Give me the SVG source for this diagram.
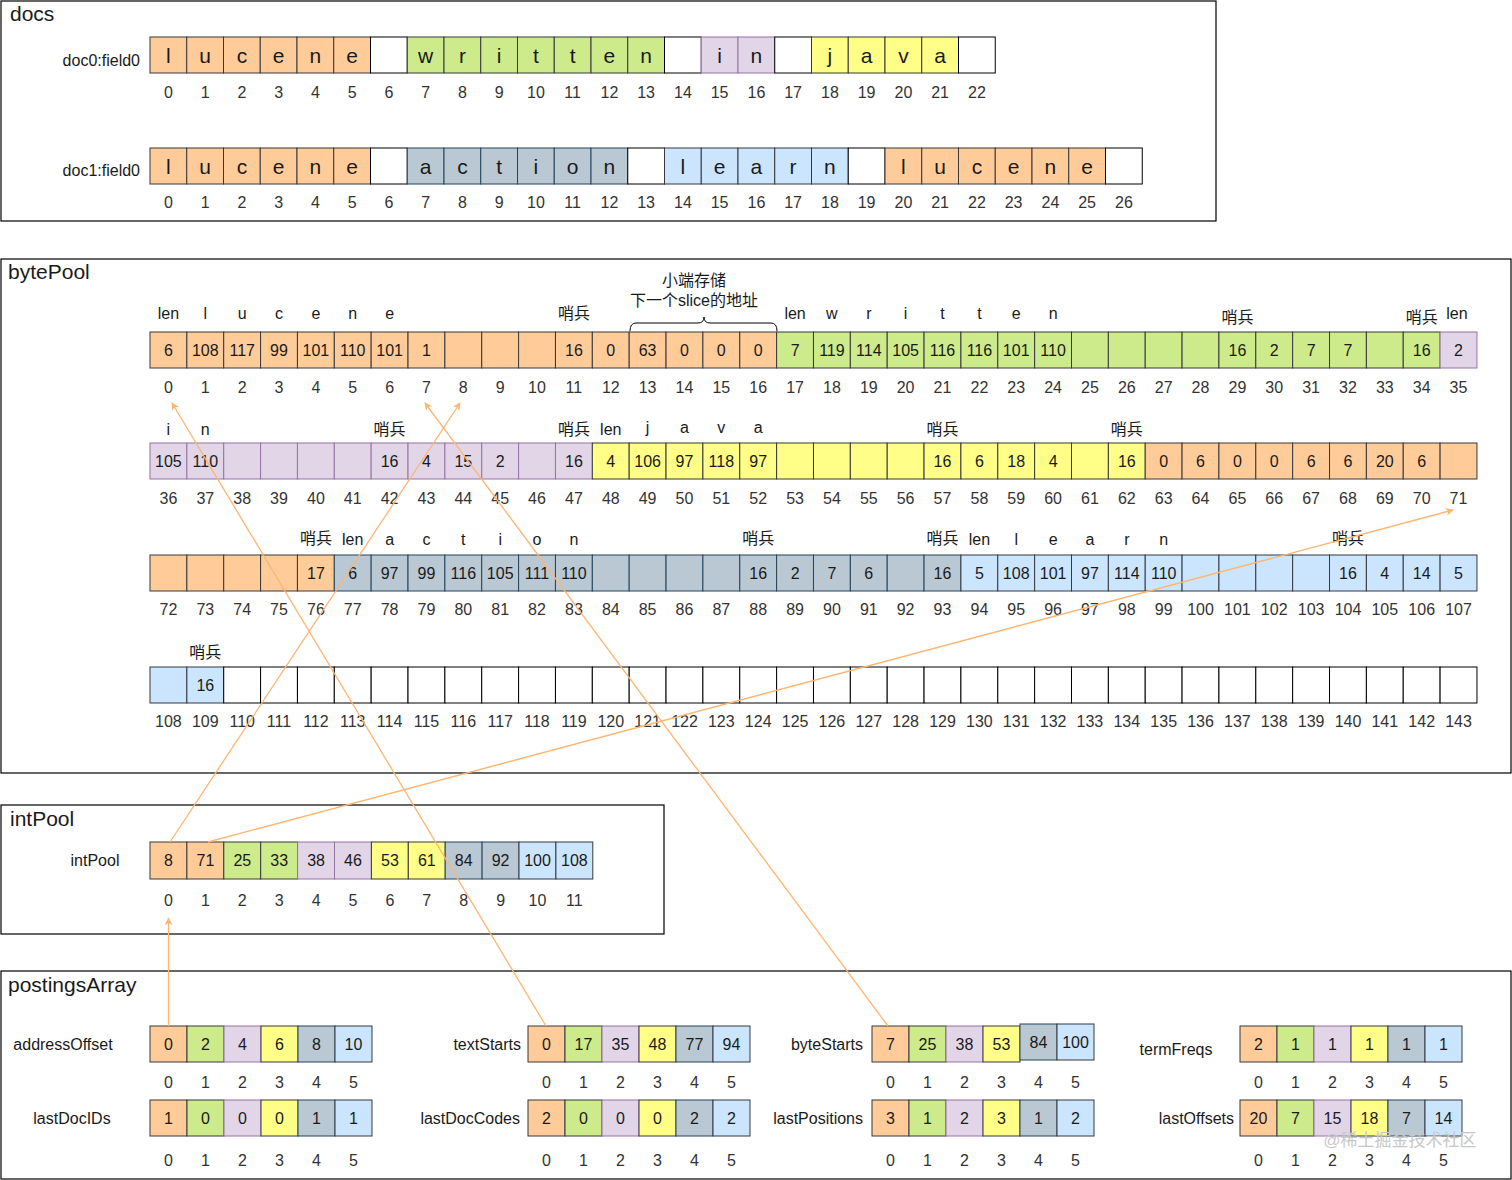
<svg xmlns="http://www.w3.org/2000/svg" width="1512" height="1180" viewBox="0 0 1512 1180">
<defs>
<style>
text{font-family:"Liberation Sans","Noto Sans CJK SC",sans-serif;fill:#1a1a1a}
.o{fill:#ffcc99;stroke:#36393d}
.g{fill:#cdeb8b;stroke:#36393d}
.p{fill:#e1d5e7;stroke:#9673a6}
.y{fill:#ffff88;stroke:#36393d}
.s{fill:#bac8d3;stroke:#23445d}
.b{fill:#cce5ff;stroke:#36393d}
.w{fill:#ffffff;stroke:#000}
.frame{fill:none;stroke:#000;stroke-width:1.2}
.title{font-size:21px}
.lab{font-size:16px;dominant-baseline:central}
.end{text-anchor:end}
.mid{text-anchor:middle}
.v{font-size:16px;text-anchor:middle;dominant-baseline:central}
.L{font-size:21px;text-anchor:middle;dominant-baseline:central}
.i{font-size:16px;text-anchor:middle;dominant-baseline:central;fill:#333}
.a{font-size:16px;text-anchor:middle;dominant-baseline:central}
.con{fill:none;stroke:#ffb570;stroke-width:1.3}
.wm{font-size:17px;fill:#c8c8c8;text-anchor:middle;dominant-baseline:central}
</style>
<marker id="arr" viewBox="0 0 10 10" refX="9" refY="5" markerWidth="8" markerHeight="8" orient="auto" markerUnits="userSpaceOnUse">
<path d="M0,0 L10,5 L0,10 L3,5 z" fill="#ffb570"/>
</marker>
</defs>
<rect x="0" y="0" width="1512" height="1180" fill="#fff"/>

<g id="docs">
<rect class="frame" x="1" y="1" width="1215" height="220"/>
<text class="title" x="10" y="21">docs</text>
<text class="lab end" x="140" y="60">doc0:field0</text>
<text class="lab end" x="140" y="170">doc1:field0</text>
<g id="doc0">
<rect class="o" x="150" y="37" width="36.75" height="36"/><rect class="o" x="186.75" y="37" width="36.75" height="36"/><rect class="o" x="223.5" y="37" width="36.75" height="36"/><rect class="o" x="260.25" y="37" width="36.75" height="36"/><rect class="o" x="297" y="37" width="36.75" height="36"/><rect class="o" x="333.75" y="37" width="36.75" height="36"/>
<rect class="w" x="370.5" y="37" width="36.75" height="36"/>
<rect class="g" x="407.25" y="37" width="36.75" height="36"/><rect class="g" x="444" y="37" width="36.75" height="36"/><rect class="g" x="480.75" y="37" width="36.75" height="36"/><rect class="g" x="517.5" y="37" width="36.75" height="36"/><rect class="g" x="554.25" y="37" width="36.75" height="36"/><rect class="g" x="591" y="37" width="36.75" height="36"/><rect class="g" x="627.75" y="37" width="36.75" height="36"/>
<rect class="w" x="664.5" y="37" width="36.75" height="36"/>
<rect class="p" x="701.25" y="37" width="36.75" height="36"/><rect class="p" x="738" y="37" width="36.75" height="36"/>
<rect class="w" x="774.75" y="37" width="36.75" height="36"/>
<rect class="y" x="811.5" y="37" width="36.75" height="36"/><rect class="y" x="848.25" y="37" width="36.75" height="36"/><rect class="y" x="885" y="37" width="36.75" height="36"/><rect class="y" x="921.75" y="37" width="36.75" height="36"/>
<rect class="w" x="958.5" y="37" width="36.75" height="36"/>
<text class="L" x="168.4" y="55">l</text><text class="L" x="205.1" y="55">u</text><text class="L" x="241.9" y="55">c</text><text class="L" x="278.6" y="55">e</text><text class="L" x="315.4" y="55">n</text><text class="L" x="352.1" y="55">e</text>
<text class="L" x="425.6" y="55">w</text><text class="L" x="462.4" y="55">r</text><text class="L" x="499.1" y="55">i</text><text class="L" x="535.9" y="55">t</text><text class="L" x="572.6" y="55">t</text><text class="L" x="609.4" y="55">e</text><text class="L" x="646.1" y="55">n</text>
<text class="L" x="719.6" y="55">i</text><text class="L" x="756.4" y="55">n</text>
<text class="L" x="829.9" y="55">j</text><text class="L" x="866.6" y="55">a</text><text class="L" x="903.4" y="55">v</text><text class="L" x="940.1" y="55">a</text>
<text class="i" x="168.4" y="92">0</text><text class="i" x="205.1" y="92">1</text><text class="i" x="241.9" y="92">2</text><text class="i" x="278.6" y="92">3</text><text class="i" x="315.4" y="92">4</text><text class="i" x="352.1" y="92">5</text><text class="i" x="388.9" y="92">6</text><text class="i" x="425.6" y="92">7</text><text class="i" x="462.4" y="92">8</text><text class="i" x="499.1" y="92">9</text><text class="i" x="535.9" y="92">10</text><text class="i" x="572.6" y="92">11</text><text class="i" x="609.4" y="92">12</text><text class="i" x="646.1" y="92">13</text><text class="i" x="682.9" y="92">14</text><text class="i" x="719.6" y="92">15</text><text class="i" x="756.4" y="92">16</text><text class="i" x="793.1" y="92">17</text><text class="i" x="829.9" y="92">18</text><text class="i" x="866.6" y="92">19</text><text class="i" x="903.4" y="92">20</text><text class="i" x="940.1" y="92">21</text><text class="i" x="976.9" y="92">22</text>
</g>
<g id="doc1">
<rect class="o" x="150" y="148" width="36.75" height="36"/><rect class="o" x="186.75" y="148" width="36.75" height="36"/><rect class="o" x="223.5" y="148" width="36.75" height="36"/><rect class="o" x="260.25" y="148" width="36.75" height="36"/><rect class="o" x="297" y="148" width="36.75" height="36"/><rect class="o" x="333.75" y="148" width="36.75" height="36"/>
<rect class="w" x="370.5" y="148" width="36.75" height="36"/>
<rect class="s" x="407.25" y="148" width="36.75" height="36"/><rect class="s" x="444" y="148" width="36.75" height="36"/><rect class="s" x="480.75" y="148" width="36.75" height="36"/><rect class="s" x="517.5" y="148" width="36.75" height="36"/><rect class="s" x="554.25" y="148" width="36.75" height="36"/><rect class="s" x="591" y="148" width="36.75" height="36"/>
<rect class="w" x="627.75" y="148" width="36.75" height="36"/>
<rect class="b" x="664.5" y="148" width="36.75" height="36"/><rect class="b" x="701.25" y="148" width="36.75" height="36"/><rect class="b" x="738" y="148" width="36.75" height="36"/><rect class="b" x="774.75" y="148" width="36.75" height="36"/><rect class="b" x="811.5" y="148" width="36.75" height="36"/>
<rect class="w" x="848.25" y="148" width="36.75" height="36"/>
<rect class="o" x="885" y="148" width="36.75" height="36"/><rect class="o" x="921.75" y="148" width="36.75" height="36"/><rect class="o" x="958.5" y="148" width="36.75" height="36"/><rect class="o" x="995.25" y="148" width="36.75" height="36"/><rect class="o" x="1032" y="148" width="36.75" height="36"/><rect class="o" x="1068.75" y="148" width="36.75" height="36"/>
<rect class="w" x="1105.5" y="148" width="36.75" height="36"/>
<text class="L" x="168.4" y="166">l</text><text class="L" x="205.1" y="166">u</text><text class="L" x="241.9" y="166">c</text><text class="L" x="278.6" y="166">e</text><text class="L" x="315.4" y="166">n</text><text class="L" x="352.1" y="166">e</text>
<text class="L" x="425.6" y="166">a</text><text class="L" x="462.4" y="166">c</text><text class="L" x="499.1" y="166">t</text><text class="L" x="535.9" y="166">i</text><text class="L" x="572.6" y="166">o</text><text class="L" x="609.4" y="166">n</text>
<text class="L" x="682.9" y="166">l</text><text class="L" x="719.6" y="166">e</text><text class="L" x="756.4" y="166">a</text><text class="L" x="793.1" y="166">r</text><text class="L" x="829.9" y="166">n</text>
<text class="L" x="903.4" y="166">l</text><text class="L" x="940.1" y="166">u</text><text class="L" x="976.9" y="166">c</text><text class="L" x="1013.6" y="166">e</text><text class="L" x="1050.4" y="166">n</text><text class="L" x="1087.1" y="166">e</text>
<text class="i" x="168.4" y="202">0</text><text class="i" x="205.1" y="202">1</text><text class="i" x="241.9" y="202">2</text><text class="i" x="278.6" y="202">3</text><text class="i" x="315.4" y="202">4</text><text class="i" x="352.1" y="202">5</text><text class="i" x="388.9" y="202">6</text><text class="i" x="425.6" y="202">7</text><text class="i" x="462.4" y="202">8</text><text class="i" x="499.1" y="202">9</text><text class="i" x="535.9" y="202">10</text><text class="i" x="572.6" y="202">11</text><text class="i" x="609.4" y="202">12</text><text class="i" x="646.1" y="202">13</text><text class="i" x="682.9" y="202">14</text><text class="i" x="719.6" y="202">15</text><text class="i" x="756.4" y="202">16</text><text class="i" x="793.1" y="202">17</text><text class="i" x="829.9" y="202">18</text><text class="i" x="866.6" y="202">19</text><text class="i" x="903.4" y="202">20</text><text class="i" x="940.1" y="202">21</text><text class="i" x="976.9" y="202">22</text><text class="i" x="1013.6" y="202">23</text><text class="i" x="1050.4" y="202">24</text><text class="i" x="1087.1" y="202">25</text><text class="i" x="1123.9" y="202">26</text>
</g>
</g>

<g id="bytePool">
<rect class="frame" x="1" y="259" width="1510" height="514"/>
<text class="title" x="8" y="279">bytePool</text>
<g id="bp-row1">
<rect class="o" x="150" y="332" width="36.86" height="36"/><rect class="o" x="186.86" y="332" width="36.86" height="36"/><rect class="o" x="223.72" y="332" width="36.86" height="36"/><rect class="o" x="260.58" y="332" width="36.86" height="36"/><rect class="o" x="297.44" y="332" width="36.86" height="36"/><rect class="o" x="334.3" y="332" width="36.86" height="36"/><rect class="o" x="371.16" y="332" width="36.86" height="36"/><rect class="o" x="408.02" y="332" width="36.86" height="36"/><rect class="o" x="444.88" y="332" width="36.86" height="36"/><rect class="o" x="481.74" y="332" width="36.86" height="36"/><rect class="o" x="518.6" y="332" width="36.86" height="36"/><rect class="o" x="555.46" y="332" width="36.86" height="36"/><rect class="o" x="592.32" y="332" width="36.86" height="36"/><rect class="o" x="629.18" y="332" width="36.86" height="36"/><rect class="o" x="666.04" y="332" width="36.86" height="36"/><rect class="o" x="702.9" y="332" width="36.86" height="36"/><rect class="o" x="739.76" y="332" width="36.86" height="36"/>
<rect class="g" x="776.62" y="332" width="36.86" height="36"/><rect class="g" x="813.48" y="332" width="36.86" height="36"/><rect class="g" x="850.34" y="332" width="36.86" height="36"/><rect class="g" x="887.2" y="332" width="36.86" height="36"/><rect class="g" x="924.06" y="332" width="36.86" height="36"/><rect class="g" x="960.92" y="332" width="36.86" height="36"/><rect class="g" x="997.78" y="332" width="36.86" height="36"/><rect class="g" x="1034.64" y="332" width="36.86" height="36"/><rect class="g" x="1071.5" y="332" width="36.86" height="36"/><rect class="g" x="1108.36" y="332" width="36.86" height="36"/><rect class="g" x="1145.22" y="332" width="36.86" height="36"/><rect class="g" x="1182.08" y="332" width="36.86" height="36"/><rect class="g" x="1218.94" y="332" width="36.86" height="36"/><rect class="g" x="1255.8" y="332" width="36.86" height="36"/><rect class="g" x="1292.66" y="332" width="36.86" height="36"/><rect class="g" x="1329.52" y="332" width="36.86" height="36"/><rect class="g" x="1366.38" y="332" width="36.86" height="36"/><rect class="g" x="1403.24" y="332" width="36.86" height="36"/>
<rect class="p" x="1440.1" y="332" width="36.86" height="36"/>
<text class="v" x="168.4" y="350">6</text><text class="v" x="205.3" y="350">108</text><text class="v" x="242.2" y="350">117</text><text class="v" x="279" y="350">99</text><text class="v" x="315.9" y="350">101</text><text class="v" x="352.7" y="350">110</text><text class="v" x="389.6" y="350">101</text><text class="v" x="426.5" y="350">1</text><text class="v" x="573.9" y="350">16</text><text class="v" x="610.8" y="350">0</text><text class="v" x="647.6" y="350">63</text><text class="v" x="684.5" y="350">0</text><text class="v" x="721.3" y="350">0</text><text class="v" x="758.2" y="350">0</text>
<text class="v" x="795.1" y="350">7</text><text class="v" x="831.9" y="350">119</text><text class="v" x="868.8" y="350">114</text><text class="v" x="905.6" y="350">105</text><text class="v" x="942.5" y="350">116</text><text class="v" x="979.4" y="350">116</text><text class="v" x="1016.2" y="350">101</text><text class="v" x="1053.1" y="350">110</text><text class="v" x="1237.4" y="350">16</text><text class="v" x="1274.2" y="350">2</text><text class="v" x="1311.1" y="350">7</text><text class="v" x="1348" y="350">7</text><text class="v" x="1421.7" y="350">16</text><text class="v" x="1458.5" y="350">2</text>
<text class="a" x="168.4" y="313">len</text><text class="a" x="205.3" y="313">l</text><text class="a" x="242.2" y="313">u</text><text class="a" x="279" y="313">c</text><text class="a" x="315.9" y="313">e</text><text class="a" x="352.7" y="313">n</text><text class="a" x="389.6" y="313">e</text><text class="a" x="573.9" y="313">哨兵</text>
<text class="a" x="795.1" y="313">len</text><text class="a" x="831.9" y="313">w</text><text class="a" x="868.8" y="313">r</text><text class="a" x="905.6" y="313">i</text><text class="a" x="942.5" y="313">t</text><text class="a" x="979.4" y="313">t</text><text class="a" x="1016.2" y="313">e</text><text class="a" x="1053.1" y="313">n</text><text class="a" x="1237.4" y="317">哨兵</text><text class="a" x="1421.7" y="317">哨兵</text><text class="a" x="1457" y="313">len</text>
<text class="a" x="694" y="280">小端存储</text><text class="a" x="694" y="300">下一个slice的地址</text>
<path d="M630,331 Q630,323 636,323 L698,323 Q704,323 704,317 Q704,323 710,323 L771,323 Q777,323 777,331" fill="none" stroke="#000" stroke-width="1"/>
<text class="i" x="168.4" y="387">0</text><text class="i" x="205.3" y="387">1</text><text class="i" x="242.2" y="387">2</text><text class="i" x="279" y="387">3</text><text class="i" x="315.9" y="387">4</text><text class="i" x="352.7" y="387">5</text><text class="i" x="389.6" y="387">6</text><text class="i" x="426.5" y="387">7</text><text class="i" x="463.3" y="387">8</text><text class="i" x="500.2" y="387">9</text><text class="i" x="537" y="387">10</text><text class="i" x="573.9" y="387">11</text><text class="i" x="610.8" y="387">12</text><text class="i" x="647.6" y="387">13</text><text class="i" x="684.5" y="387">14</text><text class="i" x="721.3" y="387">15</text><text class="i" x="758.2" y="387">16</text><text class="i" x="795.1" y="387">17</text><text class="i" x="831.9" y="387">18</text><text class="i" x="868.8" y="387">19</text><text class="i" x="905.6" y="387">20</text><text class="i" x="942.5" y="387">21</text><text class="i" x="979.4" y="387">22</text><text class="i" x="1016.2" y="387">23</text><text class="i" x="1053.1" y="387">24</text><text class="i" x="1089.9" y="387">25</text><text class="i" x="1126.8" y="387">26</text><text class="i" x="1163.7" y="387">27</text><text class="i" x="1200.5" y="387">28</text><text class="i" x="1237.4" y="387">29</text><text class="i" x="1274.2" y="387">30</text><text class="i" x="1311.1" y="387">31</text><text class="i" x="1348" y="387">32</text><text class="i" x="1384.8" y="387">33</text><text class="i" x="1421.7" y="387">34</text><text class="i" x="1458.5" y="387">35</text>
</g>
<g id="bp-row2">
<rect class="p" x="150" y="443" width="36.86" height="36"/><rect class="p" x="186.86" y="443" width="36.86" height="36"/><rect class="p" x="223.72" y="443" width="36.86" height="36"/><rect class="p" x="260.58" y="443" width="36.86" height="36"/><rect class="p" x="297.44" y="443" width="36.86" height="36"/><rect class="p" x="334.3" y="443" width="36.86" height="36"/><rect class="p" x="371.16" y="443" width="36.86" height="36"/><rect class="p" x="408.02" y="443" width="36.86" height="36"/><rect class="p" x="444.88" y="443" width="36.86" height="36"/><rect class="p" x="481.74" y="443" width="36.86" height="36"/><rect class="p" x="518.6" y="443" width="36.86" height="36"/><rect class="p" x="555.46" y="443" width="36.86" height="36"/>
<rect class="y" x="592.32" y="443" width="36.86" height="36"/><rect class="y" x="629.18" y="443" width="36.86" height="36"/><rect class="y" x="666.04" y="443" width="36.86" height="36"/><rect class="y" x="702.9" y="443" width="36.86" height="36"/><rect class="y" x="739.76" y="443" width="36.86" height="36"/><rect class="y" x="776.62" y="443" width="36.86" height="36"/><rect class="y" x="813.48" y="443" width="36.86" height="36"/><rect class="y" x="850.34" y="443" width="36.86" height="36"/><rect class="y" x="887.2" y="443" width="36.86" height="36"/><rect class="y" x="924.06" y="443" width="36.86" height="36"/><rect class="y" x="960.92" y="443" width="36.86" height="36"/><rect class="y" x="997.78" y="443" width="36.86" height="36"/><rect class="y" x="1034.64" y="443" width="36.86" height="36"/><rect class="y" x="1071.5" y="443" width="36.86" height="36"/><rect class="y" x="1108.36" y="443" width="36.86" height="36"/>
<rect class="o" x="1145.22" y="443" width="36.86" height="36"/><rect class="o" x="1182.08" y="443" width="36.86" height="36"/><rect class="o" x="1218.94" y="443" width="36.86" height="36"/><rect class="o" x="1255.8" y="443" width="36.86" height="36"/><rect class="o" x="1292.66" y="443" width="36.86" height="36"/><rect class="o" x="1329.52" y="443" width="36.86" height="36"/><rect class="o" x="1366.38" y="443" width="36.86" height="36"/><rect class="o" x="1403.24" y="443" width="36.86" height="36"/><rect class="o" x="1440.1" y="443" width="36.86" height="36"/>
<text class="v" x="168.4" y="461">105</text><text class="v" x="205.3" y="461">110</text><text class="v" x="389.6" y="461">16</text><text class="v" x="426.5" y="461">4</text><text class="v" x="463.3" y="461">15</text><text class="v" x="500.2" y="461">2</text><text class="v" x="573.9" y="461">16</text>
<text class="v" x="610.8" y="461">4</text><text class="v" x="647.6" y="461">106</text><text class="v" x="684.5" y="461">97</text><text class="v" x="721.3" y="461">118</text><text class="v" x="758.2" y="461">97</text><text class="v" x="942.5" y="461">16</text><text class="v" x="979.4" y="461">6</text><text class="v" x="1016.2" y="461">18</text><text class="v" x="1053.1" y="461">4</text><text class="v" x="1126.8" y="461">16</text>
<text class="v" x="1163.7" y="461">0</text><text class="v" x="1200.5" y="461">6</text><text class="v" x="1237.4" y="461">0</text><text class="v" x="1274.2" y="461">0</text><text class="v" x="1311.1" y="461">6</text><text class="v" x="1348" y="461">6</text><text class="v" x="1384.8" y="461">20</text><text class="v" x="1421.7" y="461">6</text>
<text class="a" x="168.4" y="429">i</text><text class="a" x="205.3" y="429">n</text><text class="a" x="389.6" y="429">哨兵</text><text class="a" x="573.9" y="429">哨兵</text><text class="a" x="610.8" y="429">len</text><text class="a" x="647.6" y="427">j</text><text class="a" x="684.5" y="427">a</text><text class="a" x="721.3" y="427">v</text><text class="a" x="758.2" y="427">a</text><text class="a" x="942.5" y="429">哨兵</text><text class="a" x="1126.8" y="429">哨兵</text>
<text class="i" x="168.4" y="498">36</text><text class="i" x="205.3" y="498">37</text><text class="i" x="242.2" y="498">38</text><text class="i" x="279" y="498">39</text><text class="i" x="315.9" y="498">40</text><text class="i" x="352.7" y="498">41</text><text class="i" x="389.6" y="498">42</text><text class="i" x="426.5" y="498">43</text><text class="i" x="463.3" y="498">44</text><text class="i" x="500.2" y="498">45</text><text class="i" x="537" y="498">46</text><text class="i" x="573.9" y="498">47</text><text class="i" x="610.8" y="498">48</text><text class="i" x="647.6" y="498">49</text><text class="i" x="684.5" y="498">50</text><text class="i" x="721.3" y="498">51</text><text class="i" x="758.2" y="498">52</text><text class="i" x="795.1" y="498">53</text><text class="i" x="831.9" y="498">54</text><text class="i" x="868.8" y="498">55</text><text class="i" x="905.6" y="498">56</text><text class="i" x="942.5" y="498">57</text><text class="i" x="979.4" y="498">58</text><text class="i" x="1016.2" y="498">59</text><text class="i" x="1053.1" y="498">60</text><text class="i" x="1089.9" y="498">61</text><text class="i" x="1126.8" y="498">62</text><text class="i" x="1163.7" y="498">63</text><text class="i" x="1200.5" y="498">64</text><text class="i" x="1237.4" y="498">65</text><text class="i" x="1274.2" y="498">66</text><text class="i" x="1311.1" y="498">67</text><text class="i" x="1348" y="498">68</text><text class="i" x="1384.8" y="498">69</text><text class="i" x="1421.7" y="498">70</text><text class="i" x="1458.5" y="498">71</text>
</g>
<g id="bp-row3">
<rect class="o" x="150" y="555" width="36.86" height="36"/><rect class="o" x="186.86" y="555" width="36.86" height="36"/><rect class="o" x="223.72" y="555" width="36.86" height="36"/><rect class="o" x="260.58" y="555" width="36.86" height="36"/><rect class="o" x="297.44" y="555" width="36.86" height="36"/>
<rect class="s" x="334.3" y="555" width="36.86" height="36"/><rect class="s" x="371.16" y="555" width="36.86" height="36"/><rect class="s" x="408.02" y="555" width="36.86" height="36"/><rect class="s" x="444.88" y="555" width="36.86" height="36"/><rect class="s" x="481.74" y="555" width="36.86" height="36"/><rect class="s" x="518.6" y="555" width="36.86" height="36"/><rect class="s" x="555.46" y="555" width="36.86" height="36"/><rect class="s" x="592.32" y="555" width="36.86" height="36"/><rect class="s" x="629.18" y="555" width="36.86" height="36"/><rect class="s" x="666.04" y="555" width="36.86" height="36"/><rect class="s" x="702.9" y="555" width="36.86" height="36"/><rect class="s" x="739.76" y="555" width="36.86" height="36"/><rect class="s" x="776.62" y="555" width="36.86" height="36"/><rect class="s" x="813.48" y="555" width="36.86" height="36"/><rect class="s" x="850.34" y="555" width="36.86" height="36"/><rect class="s" x="887.2" y="555" width="36.86" height="36"/><rect class="s" x="924.06" y="555" width="36.86" height="36"/>
<rect class="b" x="960.92" y="555" width="36.86" height="36"/><rect class="b" x="997.78" y="555" width="36.86" height="36"/><rect class="b" x="1034.64" y="555" width="36.86" height="36"/><rect class="b" x="1071.5" y="555" width="36.86" height="36"/><rect class="b" x="1108.36" y="555" width="36.86" height="36"/><rect class="b" x="1145.22" y="555" width="36.86" height="36"/><rect class="b" x="1182.08" y="555" width="36.86" height="36"/><rect class="b" x="1218.94" y="555" width="36.86" height="36"/><rect class="b" x="1255.8" y="555" width="36.86" height="36"/><rect class="b" x="1292.66" y="555" width="36.86" height="36"/><rect class="b" x="1329.52" y="555" width="36.86" height="36"/><rect class="b" x="1366.38" y="555" width="36.86" height="36"/><rect class="b" x="1403.24" y="555" width="36.86" height="36"/><rect class="b" x="1440.1" y="555" width="36.86" height="36"/>
<text class="v" x="315.9" y="573">17</text><text class="v" x="352.7" y="573">6</text><text class="v" x="389.6" y="573">97</text><text class="v" x="426.5" y="573">99</text><text class="v" x="463.3" y="573">116</text><text class="v" x="500.2" y="573">105</text><text class="v" x="537" y="573">111</text><text class="v" x="573.9" y="573">110</text><text class="v" x="758.2" y="573">16</text><text class="v" x="795.1" y="573">2</text><text class="v" x="831.9" y="573">7</text><text class="v" x="868.8" y="573">6</text><text class="v" x="942.5" y="573">16</text>
<text class="v" x="979.4" y="573">5</text><text class="v" x="1016.2" y="573">108</text><text class="v" x="1053.1" y="573">101</text><text class="v" x="1089.9" y="573">97</text><text class="v" x="1126.8" y="573">114</text><text class="v" x="1163.7" y="573">110</text><text class="v" x="1348" y="573">16</text><text class="v" x="1384.8" y="573">4</text><text class="v" x="1421.7" y="573">14</text><text class="v" x="1458.5" y="573">5</text>
<text class="a" x="315.9" y="538">哨兵</text><text class="a" x="352.7" y="539">len</text><text class="a" x="389.6" y="539">a</text><text class="a" x="426.5" y="539">c</text><text class="a" x="463.3" y="539">t</text><text class="a" x="500.2" y="539">i</text><text class="a" x="537" y="539">o</text><text class="a" x="573.9" y="539">n</text><text class="a" x="758.2" y="538">哨兵</text><text class="a" x="942.5" y="538">哨兵</text><text class="a" x="979.4" y="539">len</text><text class="a" x="1016.2" y="539">l</text><text class="a" x="1053.1" y="539">e</text><text class="a" x="1089.9" y="539">a</text><text class="a" x="1126.8" y="539">r</text><text class="a" x="1163.7" y="539">n</text><text class="a" x="1348" y="538">哨兵</text>
<text class="i" x="168.4" y="609">72</text><text class="i" x="205.3" y="609">73</text><text class="i" x="242.2" y="609">74</text><text class="i" x="279" y="609">75</text><text class="i" x="315.9" y="609">76</text><text class="i" x="352.7" y="609">77</text><text class="i" x="389.6" y="609">78</text><text class="i" x="426.5" y="609">79</text><text class="i" x="463.3" y="609">80</text><text class="i" x="500.2" y="609">81</text><text class="i" x="537" y="609">82</text><text class="i" x="573.9" y="609">83</text><text class="i" x="610.8" y="609">84</text><text class="i" x="647.6" y="609">85</text><text class="i" x="684.5" y="609">86</text><text class="i" x="721.3" y="609">87</text><text class="i" x="758.2" y="609">88</text><text class="i" x="795.1" y="609">89</text><text class="i" x="831.9" y="609">90</text><text class="i" x="868.8" y="609">91</text><text class="i" x="905.6" y="609">92</text><text class="i" x="942.5" y="609">93</text><text class="i" x="979.4" y="609">94</text><text class="i" x="1016.2" y="609">95</text><text class="i" x="1053.1" y="609">96</text><text class="i" x="1089.9" y="609">97</text><text class="i" x="1126.8" y="609">98</text><text class="i" x="1163.7" y="609">99</text><text class="i" x="1200.5" y="609">100</text><text class="i" x="1237.4" y="609">101</text><text class="i" x="1274.2" y="609">102</text><text class="i" x="1311.1" y="609">103</text><text class="i" x="1348" y="609">104</text><text class="i" x="1384.8" y="609">105</text><text class="i" x="1421.7" y="609">106</text><text class="i" x="1458.5" y="609">107</text>
</g>
<g id="bp-row4">
<rect class="b" x="150" y="667" width="36.86" height="36"/><rect class="b" x="186.86" y="667" width="36.86" height="36"/>
<rect class="w" x="223.72" y="667" width="36.86" height="36"/><rect class="w" x="260.58" y="667" width="36.86" height="36"/><rect class="w" x="297.44" y="667" width="36.86" height="36"/><rect class="w" x="334.3" y="667" width="36.86" height="36"/><rect class="w" x="371.16" y="667" width="36.86" height="36"/><rect class="w" x="408.02" y="667" width="36.86" height="36"/><rect class="w" x="444.88" y="667" width="36.86" height="36"/><rect class="w" x="481.74" y="667" width="36.86" height="36"/><rect class="w" x="518.6" y="667" width="36.86" height="36"/><rect class="w" x="555.46" y="667" width="36.86" height="36"/><rect class="w" x="592.32" y="667" width="36.86" height="36"/><rect class="w" x="629.18" y="667" width="36.86" height="36"/><rect class="w" x="666.04" y="667" width="36.86" height="36"/><rect class="w" x="702.9" y="667" width="36.86" height="36"/><rect class="w" x="739.76" y="667" width="36.86" height="36"/><rect class="w" x="776.62" y="667" width="36.86" height="36"/><rect class="w" x="813.48" y="667" width="36.86" height="36"/><rect class="w" x="850.34" y="667" width="36.86" height="36"/><rect class="w" x="887.2" y="667" width="36.86" height="36"/><rect class="w" x="924.06" y="667" width="36.86" height="36"/><rect class="w" x="960.92" y="667" width="36.86" height="36"/><rect class="w" x="997.78" y="667" width="36.86" height="36"/><rect class="w" x="1034.64" y="667" width="36.86" height="36"/><rect class="w" x="1071.5" y="667" width="36.86" height="36"/><rect class="w" x="1108.36" y="667" width="36.86" height="36"/><rect class="w" x="1145.22" y="667" width="36.86" height="36"/><rect class="w" x="1182.08" y="667" width="36.86" height="36"/><rect class="w" x="1218.94" y="667" width="36.86" height="36"/><rect class="w" x="1255.8" y="667" width="36.86" height="36"/><rect class="w" x="1292.66" y="667" width="36.86" height="36"/><rect class="w" x="1329.52" y="667" width="36.86" height="36"/><rect class="w" x="1366.38" y="667" width="36.86" height="36"/><rect class="w" x="1403.24" y="667" width="36.86" height="36"/><rect class="w" x="1440.1" y="667" width="36.86" height="36"/>
<text class="v" x="205.3" y="685">16</text>
<text class="a" x="205.3" y="652">哨兵</text>
<text class="i" x="168.4" y="721">108</text><text class="i" x="205.3" y="721">109</text><text class="i" x="242.2" y="721">110</text><text class="i" x="279" y="721">111</text><text class="i" x="315.9" y="721">112</text><text class="i" x="352.7" y="721">113</text><text class="i" x="389.6" y="721">114</text><text class="i" x="426.5" y="721">115</text><text class="i" x="463.3" y="721">116</text><text class="i" x="500.2" y="721">117</text><text class="i" x="537" y="721">118</text><text class="i" x="573.9" y="721">119</text><text class="i" x="610.8" y="721">120</text><text class="i" x="647.6" y="721">121</text><text class="i" x="684.5" y="721">122</text><text class="i" x="721.3" y="721">123</text><text class="i" x="758.2" y="721">124</text><text class="i" x="795.1" y="721">125</text><text class="i" x="831.9" y="721">126</text><text class="i" x="868.8" y="721">127</text><text class="i" x="905.6" y="721">128</text><text class="i" x="942.5" y="721">129</text><text class="i" x="979.4" y="721">130</text><text class="i" x="1016.2" y="721">131</text><text class="i" x="1053.1" y="721">132</text><text class="i" x="1089.9" y="721">133</text><text class="i" x="1126.8" y="721">134</text><text class="i" x="1163.7" y="721">135</text><text class="i" x="1200.5" y="721">136</text><text class="i" x="1237.4" y="721">137</text><text class="i" x="1274.2" y="721">138</text><text class="i" x="1311.1" y="721">139</text><text class="i" x="1348" y="721">140</text><text class="i" x="1384.8" y="721">141</text><text class="i" x="1421.7" y="721">142</text><text class="i" x="1458.5" y="721">143</text>
</g>
</g>

<g id="intPool">
<rect class="frame" x="1" y="805" width="663" height="129"/>
<text class="title" x="10" y="826">intPool</text>
<text class="lab mid" x="95" y="860">intPool</text>
<rect class="o" x="150" y="842" width="36.9" height="37"/><rect class="o" x="186.9" y="842" width="36.9" height="37"/><rect class="g" x="223.8" y="842" width="36.9" height="37"/><rect class="g" x="260.7" y="842" width="36.9" height="37"/><rect class="p" x="297.6" y="842" width="36.9" height="37"/><rect class="p" x="334.5" y="842" width="36.9" height="37"/><rect class="y" x="371.4" y="842" width="36.9" height="37"/><rect class="y" x="408.3" y="842" width="36.9" height="37"/><rect class="s" x="445.2" y="842" width="36.9" height="37"/><rect class="s" x="482.1" y="842" width="36.9" height="37"/><rect class="b" x="519" y="842" width="36.9" height="37"/><rect class="b" x="555.9" y="842" width="36.9" height="37"/>
<text class="v" x="168.5" y="860">8</text><text class="v" x="205.4" y="860">71</text><text class="v" x="242.3" y="860">25</text><text class="v" x="279.2" y="860">33</text><text class="v" x="316.1" y="860">38</text><text class="v" x="353" y="860">46</text><text class="v" x="389.9" y="860">53</text><text class="v" x="426.8" y="860">61</text><text class="v" x="463.7" y="860">84</text><text class="v" x="500.6" y="860">92</text><text class="v" x="537.5" y="860">100</text><text class="v" x="574.4" y="860">108</text>
<text class="i" x="168.5" y="900">0</text><text class="i" x="205.4" y="900">1</text><text class="i" x="242.3" y="900">2</text><text class="i" x="279.2" y="900">3</text><text class="i" x="316.1" y="900">4</text><text class="i" x="353" y="900">5</text><text class="i" x="389.9" y="900">6</text><text class="i" x="426.8" y="900">7</text><text class="i" x="463.7" y="900">8</text><text class="i" x="500.6" y="900">9</text><text class="i" x="537.5" y="900">10</text><text class="i" x="574.4" y="900">11</text>
</g>

<g id="postingsArray">
<rect class="frame" x="1" y="971" width="1510" height="208"/>
<text class="title" x="8" y="992">postingsArray</text>
<g id="addressOffset">
<text class="lab mid" x="63" y="1044">addressOffset</text>
<rect class="o" x="150" y="1026" width="37" height="36"/><rect class="g" x="187" y="1026" width="37" height="36"/><rect class="p" x="224" y="1026" width="37" height="36"/><rect class="y" x="261" y="1026" width="37" height="36"/><rect class="s" x="298" y="1026" width="37" height="36"/><rect class="b" x="335" y="1026" width="37" height="36"/>
<text class="v" x="168.5" y="1044">0</text><text class="v" x="205.5" y="1044">2</text><text class="v" x="242.5" y="1044">4</text><text class="v" x="279.5" y="1044">6</text><text class="v" x="316.5" y="1044">8</text><text class="v" x="353.5" y="1044">10</text>
<text class="i" x="168.5" y="1082">0</text><text class="i" x="205.5" y="1082">1</text><text class="i" x="242.5" y="1082">2</text><text class="i" x="279.5" y="1082">3</text><text class="i" x="316.5" y="1082">4</text><text class="i" x="353.5" y="1082">5</text>
</g>
<g id="lastDocIDs">
<text class="lab mid" x="72" y="1118">lastDocIDs</text>
<rect class="o" x="150" y="1100" width="37" height="36"/><rect class="g" x="187" y="1100" width="37" height="36"/><rect class="p" x="224" y="1100" width="37" height="36"/><rect class="y" x="261" y="1100" width="37" height="36"/><rect class="s" x="298" y="1100" width="37" height="36"/><rect class="b" x="335" y="1100" width="37" height="36"/>
<text class="v" x="168.5" y="1118">1</text><text class="v" x="205.5" y="1118">0</text><text class="v" x="242.5" y="1118">0</text><text class="v" x="279.5" y="1118">0</text><text class="v" x="316.5" y="1118">1</text><text class="v" x="353.5" y="1118">1</text>
<text class="i" x="168.5" y="1160">0</text><text class="i" x="205.5" y="1160">1</text><text class="i" x="242.5" y="1160">2</text><text class="i" x="279.5" y="1160">3</text><text class="i" x="316.5" y="1160">4</text><text class="i" x="353.5" y="1160">5</text>
</g>
<g id="textStarts">
<text class="lab end" x="521" y="1044">textStarts</text>
<rect class="o" x="528" y="1026" width="37" height="36"/><rect class="g" x="565" y="1026" width="37" height="36"/><rect class="p" x="602" y="1026" width="37" height="36"/><rect class="y" x="639" y="1026" width="37" height="36"/><rect class="s" x="676" y="1026" width="37" height="36"/><rect class="b" x="713" y="1026" width="37" height="36"/>
<text class="v" x="546.5" y="1044">0</text><text class="v" x="583.5" y="1044">17</text><text class="v" x="620.5" y="1044">35</text><text class="v" x="657.5" y="1044">48</text><text class="v" x="694.5" y="1044">77</text><text class="v" x="731.5" y="1044">94</text>
<text class="i" x="546.5" y="1082">0</text><text class="i" x="583.5" y="1082">1</text><text class="i" x="620.5" y="1082">2</text><text class="i" x="657.5" y="1082">3</text><text class="i" x="694.5" y="1082">4</text><text class="i" x="731.5" y="1082">5</text>
</g>
<g id="lastDocCodes">
<text class="lab end" x="520" y="1118">lastDocCodes</text>
<rect class="o" x="528" y="1100" width="37" height="36"/><rect class="g" x="565" y="1100" width="37" height="36"/><rect class="p" x="602" y="1100" width="37" height="36"/><rect class="y" x="639" y="1100" width="37" height="36"/><rect class="s" x="676" y="1100" width="37" height="36"/><rect class="b" x="713" y="1100" width="37" height="36"/>
<text class="v" x="546.5" y="1118">2</text><text class="v" x="583.5" y="1118">0</text><text class="v" x="620.5" y="1118">0</text><text class="v" x="657.5" y="1118">0</text><text class="v" x="694.5" y="1118">2</text><text class="v" x="731.5" y="1118">2</text>
<text class="i" x="546.5" y="1160">0</text><text class="i" x="583.5" y="1160">1</text><text class="i" x="620.5" y="1160">2</text><text class="i" x="657.5" y="1160">3</text><text class="i" x="694.5" y="1160">4</text><text class="i" x="731.5" y="1160">5</text>
</g>
<g id="byteStarts">
<text class="lab end" x="863" y="1044">byteStarts</text>
<rect class="o" x="872" y="1026" width="37" height="36"/><rect class="g" x="909" y="1026" width="37" height="36"/><rect class="p" x="946" y="1026" width="37" height="36"/><rect class="y" x="983" y="1026" width="37" height="36"/><rect class="s" x="1020" y="1024" width="37" height="36"/><rect class="b" x="1057" y="1024" width="37" height="36"/>
<text class="v" x="890.5" y="1044">7</text><text class="v" x="927.5" y="1044">25</text><text class="v" x="964.5" y="1044">38</text><text class="v" x="1001.5" y="1044">53</text><text class="v" x="1038.5" y="1042">84</text><text class="v" x="1075.5" y="1042">100</text>
<text class="i" x="890.5" y="1082">0</text><text class="i" x="927.5" y="1082">1</text><text class="i" x="964.5" y="1082">2</text><text class="i" x="1001.5" y="1082">3</text><text class="i" x="1038.5" y="1082">4</text><text class="i" x="1075.5" y="1082">5</text>
</g>
<g id="lastPositions">
<text class="lab end" x="863" y="1118">lastPositions</text>
<rect class="o" x="872" y="1100" width="37" height="36"/><rect class="g" x="909" y="1100" width="37" height="36"/><rect class="p" x="946" y="1100" width="37" height="36"/><rect class="y" x="983" y="1100" width="37" height="36"/><rect class="s" x="1020" y="1100" width="37" height="36"/><rect class="b" x="1057" y="1100" width="37" height="36"/>
<text class="v" x="890.5" y="1118">3</text><text class="v" x="927.5" y="1118">1</text><text class="v" x="964.5" y="1118">2</text><text class="v" x="1001.5" y="1118">3</text><text class="v" x="1038.5" y="1118">1</text><text class="v" x="1075.5" y="1118">2</text>
<text class="i" x="890.5" y="1160">0</text><text class="i" x="927.5" y="1160">1</text><text class="i" x="964.5" y="1160">2</text><text class="i" x="1001.5" y="1160">3</text><text class="i" x="1038.5" y="1160">4</text><text class="i" x="1075.5" y="1160">5</text>
</g>
<g id="termFreqs">
<text class="lab mid" x="1176" y="1049">termFreqs</text>
<rect class="o" x="1240" y="1026" width="37" height="36"/><rect class="g" x="1277" y="1026" width="37" height="36"/><rect class="p" x="1314" y="1026" width="37" height="36"/><rect class="y" x="1351" y="1026" width="37" height="36"/><rect class="s" x="1388" y="1026" width="37" height="36"/><rect class="b" x="1425" y="1026" width="37" height="36"/>
<text class="v" x="1258.5" y="1044">2</text><text class="v" x="1295.5" y="1044">1</text><text class="v" x="1332.5" y="1044">1</text><text class="v" x="1369.5" y="1044">1</text><text class="v" x="1406.5" y="1044">1</text><text class="v" x="1443.5" y="1044">1</text>
<text class="i" x="1258.5" y="1082">0</text><text class="i" x="1295.5" y="1082">1</text><text class="i" x="1332.5" y="1082">2</text><text class="i" x="1369.5" y="1082">3</text><text class="i" x="1406.5" y="1082">4</text><text class="i" x="1443.5" y="1082">5</text>
</g>
<g id="lastOffsets">
<text class="lab end" x="1234" y="1118">lastOffsets</text>
<rect class="o" x="1240" y="1100" width="37" height="36"/><rect class="g" x="1277" y="1100" width="37" height="36"/><rect class="p" x="1314" y="1100" width="37" height="36"/><rect class="y" x="1351" y="1100" width="37" height="36"/><rect class="s" x="1388" y="1100" width="37" height="36"/><rect class="b" x="1425" y="1100" width="37" height="36"/>
<text class="v" x="1258.5" y="1118">20</text><text class="v" x="1295.5" y="1118">7</text><text class="v" x="1332.5" y="1118">15</text><text class="v" x="1369.5" y="1118">18</text><text class="v" x="1406.5" y="1118">7</text><text class="v" x="1443.5" y="1118">14</text>
<text class="i" x="1258.5" y="1160">0</text><text class="i" x="1295.5" y="1160">1</text><text class="i" x="1332.5" y="1160">2</text><text class="i" x="1369.5" y="1160">3</text><text class="i" x="1406.5" y="1160">4</text><text class="i" x="1443.5" y="1160">5</text>
</g>
</g>

<g id="connectors">
<line class="con" x1="168.5" y1="1026" x2="168.5" y2="918" marker-end="url(#arr)"/>
<line class="con" x1="170" y1="842" x2="460" y2="403" marker-end="url(#arr)"/>
<line class="con" x1="208" y1="842" x2="1453" y2="510" marker-end="url(#arr)"/>
<line class="con" x1="546" y1="1026" x2="172" y2="403" marker-end="url(#arr)"/>
<line class="con" x1="888" y1="1026" x2="425" y2="403" marker-end="url(#arr)"/>
</g>

<text class="wm" x="1400" y="1140">@稀土掘金技术社区</text>
</svg>
